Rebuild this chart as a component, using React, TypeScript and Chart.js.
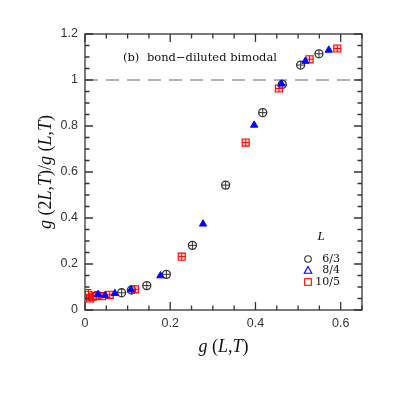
import React, { useEffect, useRef } from "react";
import { Chart, registerables } from "chart.js";
Chart.register(...registerables);

// ---- data ----
const blackX = [0.026, 0.086, 0.109, 0.145, 0.191, 0.252, 0.330, 0.417, 0.463, 0.506, 0.549];
const blackY = [0.062, 0.075, 0.087, 0.106, 0.155, 0.281, 0.543, 0.858, 0.981, 1.065, 1.114];
const blueX = [0.031, 0.047, 0.070, 0.108, 0.177, 0.277, 0.397, 0.461, 0.517, 0.572];
const blueY = [0.068, 0.063, 0.072, 0.088, 0.149, 0.374, 0.804, 0.983, 1.082, 1.130];
const redX = [0.008, 0.012, 0.018, 0.028, 0.040, 0.058, 0.117, 0.227, 0.377, 0.455, 0.527, 0.592];
const redY = [0.066, 0.050, 0.058, 0.062, 0.060, 0.066, 0.090, 0.232, 0.728, 0.963, 1.090, 1.137];
const redErr = [0.023, 0.008, 0, 0, 0, 0, 0, 0, 0, 0, 0, 0];

const xTickValues = [0, 0.2, 0.4, 0.6];
const yTickValues = [0, 0.2, 0.4, 0.6, 0.8, 1, 1.2];
const minorStep = 0.05;
const xRange = [0, 0.65];
const yRange = [0, 1.2];
const refLineY = 1;

const legendTitle = "L";
const legendLabels = ["6/3", "8/4", "10/5"];
const annotationTag = "(b)";
const annotationText = "bond\u2212diluted bimodal";
const annotationPos = [0.089, 1.096];

const xTitle: [string, boolean][] = [["g", true], [" (", false], ["L", true], [",", false], ["T", true], [")", false]];
const yTitle: [string, boolean][] = [
  ["g", true], [" (2", false], ["L", true], [",", false], ["T", true], [")/", false],
  ["g", true], [" (", false], ["L", true], [",", false], ["T", true], [")", false],
];

const toPts = (xs: number[], ys: number[]) => xs.map((x, i) => ({ x, y: ys[i] }));

const BLACK = "#333333";
const BLUE = "rgb(0,0,255)";
const RED = "rgb(255,0,0)";
const SERIF = "'Liberation Serif', serif";
const TT = "'DejaVu Serif', serif";
const SANS = "Liberation Sans, Arial, sans-serif";

function drawMixed(ctx: CanvasRenderingContext2D, segs: [string, boolean][], size: number) {
  const fonts = segs.map(([, it]) => `${it ? "italic " : ""}${size}px ${SERIF}`);
  const widths = segs.map(([t], i) => {
    ctx.font = fonts[i];
    return ctx.measureText(t).width;
  });
  const total = widths.reduce((a, b) => a + b, 0);
  let x = -total / 2;
  ctx.textBaseline = "middle";
  ctx.textAlign = "left";
  segs.forEach(([t], i) => {
    ctx.font = fonts[i];
    ctx.fillText(t, x, 0);
    x += widths[i];
  });
}

const decor = {
  id: "decor",
  beforeDatasetsDraw(chart: any) {
    const { ctx, chartArea: a, scales } = chart;
    const xs = scales.x;
    const ys = scales.y;
    ctx.save();
    ctx.strokeStyle = "#999999";
    ctx.lineWidth = 1.4;
    ctx.setLineDash([13, 8]);
    const py = ys.getPixelForValue(refLineY);
    ctx.beginPath();
    ctx.moveTo(a.left, py);
    ctx.lineTo(a.right, py);
    ctx.stroke();
    ctx.setLineDash([]);
    ctx.strokeStyle = RED;
    ctx.lineWidth = 1;
    redX.forEach((vx, i) => {
      const e = redErr[i];
      if (!e) return;
      const px = xs.getPixelForValue(vx);
      const y1 = ys.getPixelForValue(redY[i] - e);
      const y2 = ys.getPixelForValue(redY[i] + e);
      ctx.beginPath();
      ctx.moveTo(px, y1);
      ctx.lineTo(px, y2);
      ctx.moveTo(px - 3, y1);
      ctx.lineTo(px + 3, y1);
      ctx.moveTo(px - 3, y2);
      ctx.lineTo(px + 3, y2);
      ctx.stroke();
    });
    ctx.restore();
  },
  afterDraw(chart: any) {
    const { ctx, chartArea: a, scales } = chart;
    const xs = scales.x;
    const ys = scales.y;
    ctx.save();
    ctx.setLineDash([]);
    const L = a.left, R = a.right, T = a.top, B = a.bottom;
    ctx.strokeStyle = "#333333";
    ctx.lineWidth = 1.3;
    ctx.strokeRect(L, T, R - L, B - T);
    // ticks (inward, all four sides)
    const isMajor = (v: number, arr: number[]) => arr.some((m) => Math.abs(m - v) < 1e-6);
    ctx.beginPath();
    const nx = Math.round((xRange[1] - xRange[0]) / minorStep);
    for (let i = 0; i <= nx; i++) {
      const v = xRange[0] + i * minorStep;
      const len = isMajor(v, xTickValues) ? 8 : 4.5;
      const px = xs.getPixelForValue(v);
      ctx.moveTo(px, B);
      ctx.lineTo(px, B - len);
      ctx.moveTo(px, T);
      ctx.lineTo(px, T + len);
    }
    const ny = Math.round((yRange[1] - yRange[0]) / minorStep);
    for (let i = 0; i <= ny; i++) {
      const v = yRange[0] + i * minorStep;
      const len = isMajor(v, yTickValues) ? 8 : 4.5;
      const py = ys.getPixelForValue(v);
      ctx.moveTo(L, py);
      ctx.lineTo(L + len, py);
      ctx.moveTo(R, py);
      ctx.lineTo(R - len, py);
    }
    ctx.stroke();

    // titles
    ctx.fillStyle = "#111111";
    ctx.save();
    ctx.translate((L + R) / 2, 347);
    drawMixed(ctx, xTitle, 18);
    ctx.restore();
    ctx.save();
    ctx.translate(46, (T + B) / 2);
    ctx.rotate(-Math.PI / 2);
    drawMixed(ctx, yTitle, 18);
    ctx.restore();

    // annotation
    ctx.fillStyle = "#111111";
    ctx.font = `11.5px ${TT}`;
    ctx.textBaseline = "middle";
    ctx.textAlign = "left";
    const ax = xs.getPixelForValue(annotationPos[0]);
    const ay = ys.getPixelForValue(annotationPos[1]);
    ctx.fillText(annotationTag, ax, ay);
    ctx.fillText(annotationText, ax + 24, ay);

    // legend
    const lx = R - 54;
    const tx = R - 22;
    ctx.font = `italic 13px ${SERIF}`;
    ctx.textAlign = "center";
    ctx.fillText(legendTitle, R - 41, T + 203);
    ctx.font = `11px ${TT}`;
    ctx.textAlign = "right";
    const rows = [T + 225, T + 236.5, T + 248];
    legendLabels.forEach((t, i) => ctx.fillText(t, tx, rows[i]));
    ctx.lineWidth = 1.1;
    ctx.strokeStyle = BLACK;
    ctx.beginPath();
    ctx.arc(lx, rows[0], 3.3, 0, Math.PI * 2);
    ctx.stroke();
    ctx.strokeStyle = BLUE;
    ctx.beginPath();
    ctx.moveTo(lx, rows[1] - 4);
    ctx.lineTo(lx + 3.8, rows[1] + 2.8);
    ctx.lineTo(lx - 3.8, rows[1] + 2.8);
    ctx.closePath();
    ctx.stroke();
    ctx.strokeStyle = RED;
    ctx.strokeRect(lx - 3.3, rows[2] - 3.3, 6.6, 6.6);
    ctx.restore();
  },
};

export default function App() {
  const ref = useRef<HTMLCanvasElement | null>(null);
  useEffect(() => {
    if (!ref.current) return;
    const blackPts = toPts(blackX, blackY);
    const redPts = toPts(redX, redY);
    const bluePts = toPts(blueX, blueY);
    const fmt = (v: any) => String(Math.round(Number(v) * 10) / 10);
    const chart = new Chart(ref.current, {
      type: "scatter",
      data: {
        datasets: [
          { label: "8/4", data: bluePts, pointStyle: "triangle", pointRadius: 4.2, backgroundColor: BLUE, borderColor: BLUE, borderWidth: 1 },
          { label: "10/5 e", data: redPts, pointStyle: "cross", pointRadius: 3.4, borderColor: RED, borderWidth: 1 },
          { label: "10/5", data: redPts, pointStyle: "rect", pointRadius: 5, backgroundColor: "rgba(255,90,90,0.25)", borderColor: RED, borderWidth: 1.1 },
          { label: "6/3 e", data: blackPts, pointStyle: "cross", pointRadius: 4, borderColor: BLACK, borderWidth: 1 },
          { label: "6/3", data: blackPts, pointStyle: "circle", pointRadius: 4, backgroundColor: "rgba(0,0,0,0)", borderColor: BLACK, borderWidth: 1.3 },
        ] as any,
      },
      options: {
        animation: false,
        responsive: false,
        events: [],
        layout: { padding: { left: 0, top: 34, right: 33, bottom: 0 } },
        plugins: { legend: { display: false }, tooltip: { enabled: false } },
        scales: {
          x: {
            type: "linear",
            min: xRange[0],
            max: xRange[1],
            grid: { display: false, drawTicks: false },
            border: { display: false },
            ticks: { color: "#333", font: { family: SANS, size: 12.5 }, padding: 6, callback: fmt, maxRotation: 0 },
            afterBuildTicks: (s: any) => { s.ticks = xTickValues.map((value) => ({ value })); },
            afterFit: (s: any) => { s.height = 85; },
          },
          y: {
            type: "linear",
            min: yRange[0],
            max: yRange[1],
            grid: { display: false, drawTicks: false },
            border: { display: false },
            ticks: { color: "#333", font: { family: SANS, size: 12.5 }, padding: 7, callback: fmt },
            afterBuildTicks: (s: any) => { s.ticks = yTickValues.map((value) => ({ value })); },
            afterFit: (s: any) => { s.width = 85; },
          },
        },
      } as any,
      plugins: [decor],
    });
    return () => chart.destroy();
  }, []);
  return (
    <div style={{ position: "fixed", left: 0, top: 0, width: 395, height: 395, background: "#fff" }}>
      <canvas ref={ref} width={395} height={395} style={{ display: "block" }} />
    </div>
  );
}
